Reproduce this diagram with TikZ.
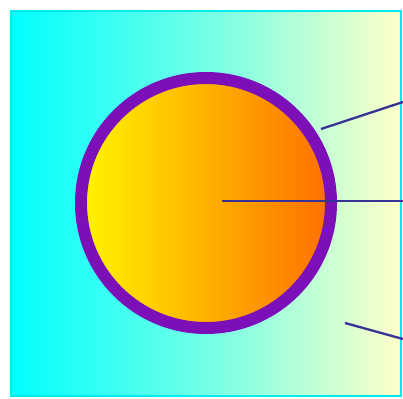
\documentclass[tikz,border=0pt]{standalone}
\definecolor{ringpurple}{RGB}{125,15,185}
\definecolor{linenavy}{RGB}{55,50,150}
\definecolor{bgcyan}{RGB}{0,255,255}
\definecolor{bgyellow}{RGB}{255,255,200}
\definecolor{sunyellow}{RGB}{255,245,0}
\definecolor{sunorange}{RGB}{255,110,0}
\tikzset{
  x=1pt, y=-1pt,
  panel/.style={draw=bgcyan!85!teal, line width=2.5pt, left color=bgcyan, right color=bgyellow,
                middle color=bgcyan!55!bgyellow},
  sun/.style={circle, draw=ringpurple, line width=12pt, minimum size=250pt, inner sep=0pt,
              left color=sunyellow, right color=sunorange},
  pointer/.style={draw=linenavy, line width=2.3pt}
}
\begin{document}
\begin{tikzpicture}
\useasboundingbox (0,0) rectangle (403,398);
\fill[white] (0,0) rectangle (403,398);
\path[panel] (11,11) rectangle (401,396);
\node[sun] (circ) at (206,203) {};
\coordinate (c1s) at (321,129);
\coordinate (c1e) at (403,102);
\coordinate (c2s) at (222,201);
\coordinate (c2e) at (403,201);
\coordinate (c3s) at (345,323);
\coordinate (c3e) at (403,339);
\draw[pointer] (c1s) -- (c1e);
\draw[pointer] (c2s) -- (c2e);
\draw[pointer] (c3s) -- (c3e);
\end{tikzpicture}
\end{document}
